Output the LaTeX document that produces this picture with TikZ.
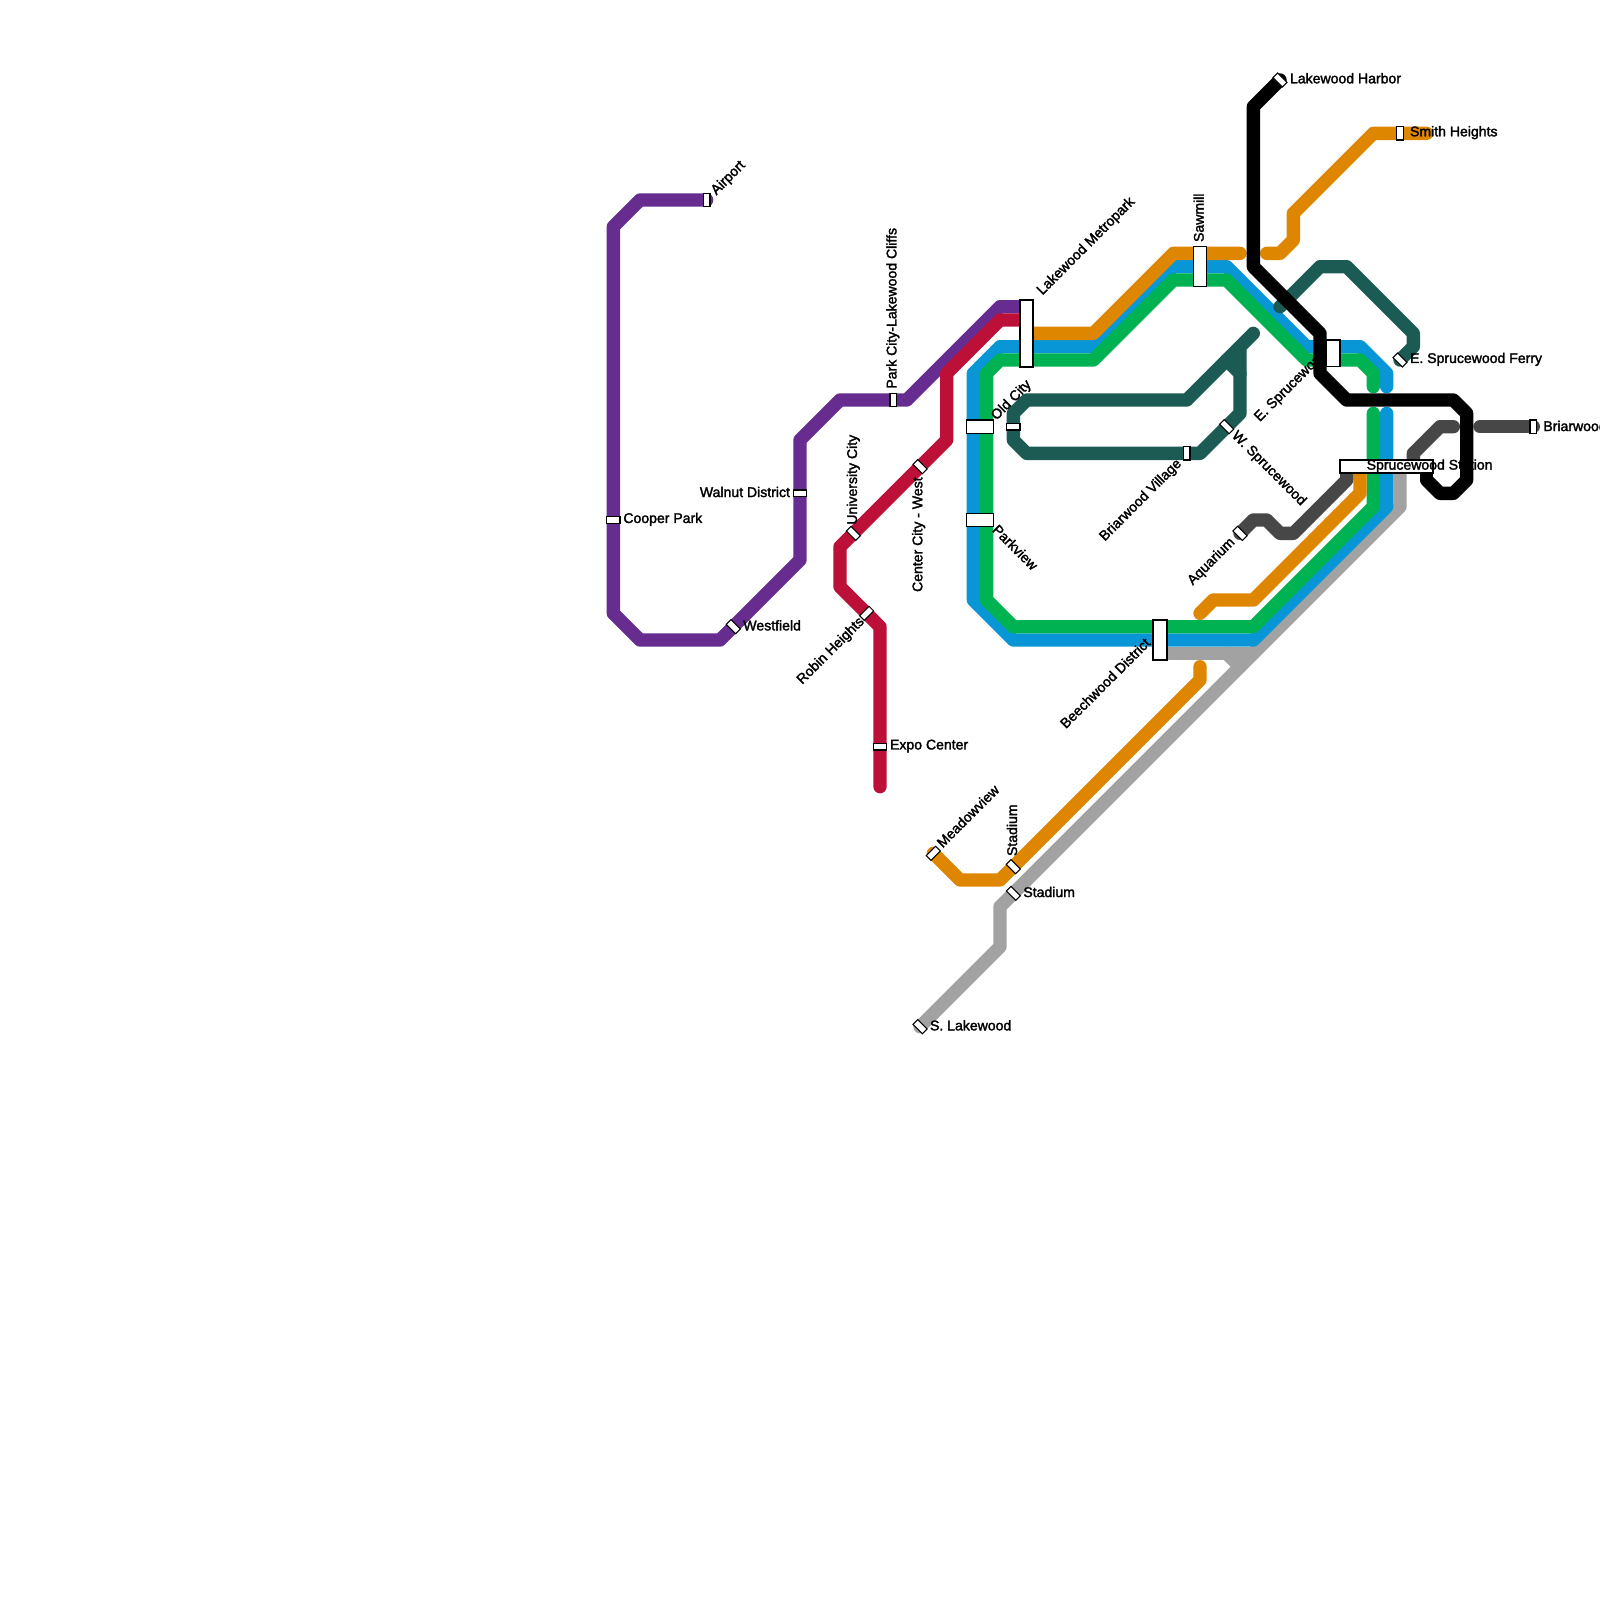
\documentclass[tikz,border=0pt]{standalone}
\usepackage{fontspec}
\newfontface\stafont{Liberation Sans}[FakeBold=2]
\usetikzlibrary{positioning}
\definecolor{purpleln}{HTML}{662C90}
\definecolor{crimsonln}{HTML}{BD1038}
\definecolor{blueln}{HTML}{0896D7}
\definecolor{greenln}{HTML}{00B251}
\definecolor{orangeln}{HTML}{DF8600}
\definecolor{tealln}{HTML}{1C5B54}
\definecolor{slateln}{HTML}{474747}
\definecolor{grayln}{HTML}{A2A2A2}
\begin{document}
\begin{tikzpicture}[
  x=0.13333cm, y=-0.13333cm,
  every node/.style={font=\stafont\fontsize{4pt}{4.5pt}\selectfont, inner sep=0pt},
  route/.style={line width=0.13333cm, line cap=round, line join=round, draw=#1},
  stop/.style={draw=black, line width=0.3pt, fill=white, minimum width=0.13333cm, minimum height=0.06667cm},
  stopv/.style={stop, rotate=90},
  stopd/.style={stop, rotate=-45},
  stopu/.style={stop, rotate=45},
  hub/.style n args={3}{draw=black, line width=#3, fill=white, minimum width=#1*0.13333cm, minimum height=#2*0.13333cm},
]
\useasboundingbox (0,0) rectangle (120,120);
\coordinate (airport) at (53,15);
\coordinate (metropark) at (77,25);
\coordinate (beechwood) at (87,48);
\coordinate (harbor) at (96,6);
\coordinate (smith) at (105,10);
\coordinate (ferry) at (105,27);
\coordinate (briarwood) at (115,32);
\coordinate (aquarium) at (93,40);
\coordinate (meadow) at (70,64);
\coordinate (lakewoodS) at (69,77);
\coordinate (expo) at (66,59);

\draw[route=grayln] (lakewoodS) -- (75,71) -- (75,68) -- (105,38) -- (105,35);
\draw[route=grayln] (beechwood|-0,49) -- (94,49);
\draw[route=grayln] (92,49) -- (93,50);
\draw[route=purpleln] (airport) -- (48,15) -- (46,17) -- (46,46) -- (48,48) -- (54,48)
  -- (60,42) -- (60,33) -- (63,30) -- (68,30) -- (75,23) -- (77,23);
\draw[route=crimsonln] (77,24) -- (75,24) -- (71,28) -- (71,33) -- (63,41) -- (63,44)
  -- (66,47) -- (expo);
\draw[route=blueln] (104,31) -- (104,38) -- (94,48) -- (76,48) -- (73,45) -- (73,28)
  -- (75,26) -- (82,26) -- (88,20) -- (92,20) -- (98,26) -- (102,26) -- (104,28) -- (104,29);
\draw[route=greenln] (103,31) -- (103,38) -- (94,47) -- (76,47) -- (74,45) -- (74,28)
  -- (75,27) -- (82,27) -- (88,21) -- (92,21) -- (98,27) -- (102,27) -- (103,28) -- (103,29);
\draw[route=orangeln] (metropark) -- (82,25) -- (88,19) -- (93,19);
\draw[route=orangeln] (95,19) -- (96,19) -- (97,18) -- (97,16) -- (103,10) -- (107,10);
\draw[route=orangeln] (102,35) -- (102,37) -- (94,45) -- (91,45) -- (90,46);
\draw[route=orangeln] (90,50) -- (90,51) -- (75,66) -- (72,66) -- (meadow);
\draw[route=slateln] (111,32) -- (briarwood);
\draw[route=slateln] (109,32) -- (108,32) -- (106,34) -- (106,35);
\draw[route=slateln] (101,35) -- (101,36) -- (97,40) -- (96,40) -- (95,39) -- (94,39) -- (aquarium);
\draw[route=tealln] (94,25) -- (89,30) -- (77,30) -- (76,31) -- (76,33) -- (77,34) -- (90,34)
  -- (93,31) -- (93,26);
\draw[route=tealln] (93,28) -- (92,27);
\draw[route=tealln] (96,23) -- (99,20) -- (101,20) -- (106,25) -- (106,26) -- (ferry);

\node[stopv] (airportSt) at (airport) {};
\node[stop] (cooperSt) at (46,39) {};
\node[stop] (walnutSt) at (60,37) {};
\node[stopd] (westfieldSt) at (55,47) {};
\node[stopv] (parkcitySt) at (67,30) {};
\node[stopd] (universitySt) at (64,40) {};
\node[stopd] (centerSt) at (69,35) {};
\node[stopu] (robinSt) at (65,46) {};
\node[stop] (expoSt) at (66,56) {};
\node[stopu] (meadowSt) at (meadow) {};
\node[stopd] (stadiumOSt) at (76,65) {};
\node[stopd] (stadiumGSt) at (76,67) {};
\node[stopd] (lakewoodSt) at (lakewoodS) {};
\node[stop] (oldteal) at (76,32) {};
\node[stopv] (villageSt) at (89,34) {};
\node[stopd] (wspruceSt) at (92,32) {};
\node[stopd] (aquariumSt) at (aquarium) {};
\node[stopv] (smithSt) at (smith) {};
\node[stopd] (ferrySt) at (ferry) {};
\node[stopv] (briarwoodSt) at (briarwood) {};
\node[hub={1}{5}{0.55pt}] (metroparkSt) at (77,25) {};
\node[hub={1}{3}{0.55pt}] (beechwoodSt) at (87,48) {};
\node[hub={7}{1}{0.55pt}] (sprucewoodSt) at (104,35) {};
\node[hub={1}{3}{0.35pt}] (sawmillSt) at (90,20) {};
\node[hub={1}{2}{0.35pt}] (espruceSt) at (100,26.5) {};
\node[hub={2}{1}{0.35pt}] (oldcitySt) at (73.5,32) {};
\node[hub={2}{1}{0.35pt}] (parkviewSt) at (73.5,39) {};

\node[rotate=45, anchor=west] (airportLb) at (53.5,14.5) {Airport};
\node[anchor=west] (cooperLb) at (46.7,38.95) {Cooper Park};
\node[anchor=east] (walnutLb) at (59.3,36.9) {Walnut District};
\node[anchor=west] (westfieldLb) at (55.7,46.9) {Westfield};
\node[rotate=90, anchor=west] (parkcityLb) at (66.96,29.2) {Park City-Lakewood Cliffs};
\node[rotate=90, anchor=west] (universityLb) at (64,39.4) {University City};
\node[rotate=90, anchor=east] (centerLb) at (68.9,35.75) {Center City - West};
\node[rotate=45, anchor=east] (robinLb) at (64.7,46.45) {Robin Heights};
\node[anchor=west] (expoLb) at (66.7,55.95) {Expo Center};
\node[rotate=45, anchor=west] (metroparkLb) at (77.95,22) {Lakewood Metropark};
\node[rotate=45, anchor=west] (oldcityLb) at (74.5,31.4) {Old City};
\node[rotate=-45, anchor=west] (parkviewLb) at (74.6,39.5) {Parkview};
\node[rotate=90, anchor=west] (sawmillLb) at (89.9,18.2) {Sawmill};
\node[rotate=45, anchor=east] (villageLb) at (88.5,34.6) {Briarwood Village};
\node[rotate=-45, anchor=west] (wspruceLb) at (92.5,32.5) {W. Sprucewood};
\node[rotate=45, anchor=west] (espruceLb) at (94.25,31.5) {E. Sprucewood};
\node[rotate=45, anchor=east] (beechwoodLb) at (86.1,48) {Beechwood District};
\node[rotate=45, anchor=east] (aquariumLb) at (92.5,40.5) {Aquarium};
\node[anchor=west] (harborLb) at (96.7,5.87) {Lakewood Harbor};
\node[anchor=west] (smithLb) at (105.7,9.95) {Smith Heights};
\node[anchor=west] (ferryLb) at (105.7,26.95) {E. Sprucewood Ferry};
\node[anchor=west] (briarwoodLb) at (115.7,31.95) {Briarwood};
\node[anchor=west] (sprucewoodLb) at (102.45,34.95) {Sprucewood Station};
\node[rotate=90, anchor=west] (stadiumOLb) at (75.9,64.25) {Stadium};
\node[anchor=west] (stadiumGLb) at (76.7,66.9) {Stadium};
\node[rotate=45, anchor=west] (meadowLb) at (70.4,63.4) {Meadowview};
\node[anchor=west] (lakewoodLb) at (69.7,76.9) {S. Lakewood};

\draw[route=black, line cap=butt] (107,35.55) -- (107,36);
\draw[route=black] (107,36) -- (108,37) -- (109,37) -- (110,36) -- (110,31) -- (109,30)
  -- (101,30) -- (99,28) -- (99,25) -- (94,20) -- (94,8) -- (harbor);
\node[stopd] (harborSt) at (harbor) {};
\end{tikzpicture}
\end{document}
